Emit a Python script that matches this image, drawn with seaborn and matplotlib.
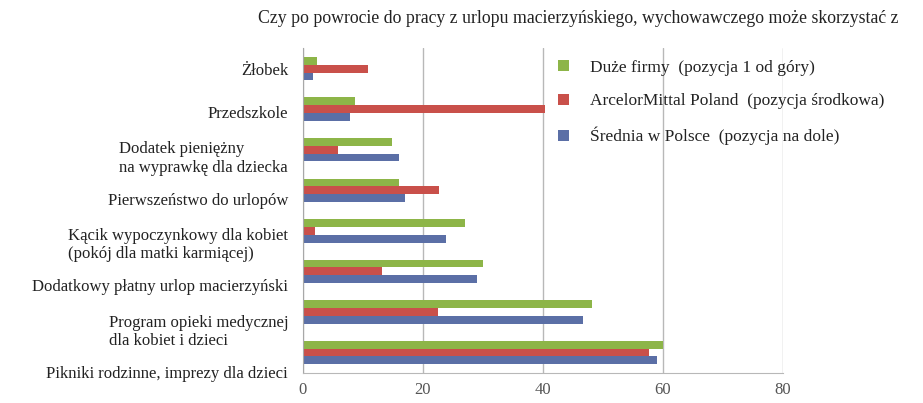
import matplotlib
matplotlib.use("Agg")
import matplotlib.pyplot as plt
import matplotlib.transforms as mtransforms
from matplotlib.patches import Patch
import seaborn as sns
import pandas as pd

categories = [
    "Żłobek",
    "Przedszkole",
    "Dodatek pieniężny\nna wyprawkę dla dziecka",
    "Pierwszeństwo do urlopów",
    "Kącik wypoczynkowy dla kobiet\n(pokój dla matki karmiącej)",
    "Dodatkowy płatny urlop macierzyński",
    "Program opieki medycznej\ndla kobiet i dzieci",
    "Pikniki rodzinne, imprezy dla dzieci",
]
series_names = [
    "Duże firmy  (pozycja 1 od góry)",
    "ArcelorMittal Poland  (pozycja środkowa)",
    "Średnia w Polsce  (pozycja na dole)",
]
duze_firmy = [2.3, 8.7, 14.8, 16.0, 27.0, 30.0, 48.2, 60.0]
arcelor = [10.8, 40.3, 5.8, 22.7, 2.0, 13.2, 22.5, 57.7]
srednia = [1.7, 7.8, 16.0, 17.0, 23.8, 29.0, 46.7, 59.0]
x_ticks = [0, 20, 40, 60, 80]
title = "Czy po powrocie do pracy z urlopu macierzyńskiego, wychowawczego może skorzystać z"

colors = ["#8db548", "#c9504a", "#5b6fa6"]

df = pd.concat([
    pd.DataFrame({"cat": categories, "val": vals, "seria": name})
    for name, vals in zip(series_names, [duze_firmy, arcelor, srednia])
])

sns.set_style("white")
plt.rcParams["font.family"] = ["Liberation Serif", "DejaVu Serif"]

fig = plt.figure(figsize=(9.23, 4.03), dpi=100)
ax = fig.add_axes([0.328, 0.075, 0.52, 0.805])

sns.barplot(data=df, y="cat", x="val", hue="seria", hue_order=series_names,
            order=categories, palette=colors, orient="h", width=0.58, gap=0,
            saturation=1, linewidth=0, ax=ax, legend=False)

ax.set_xlim(0, 80)
ax.set_xticks(x_ticks)
ax.set_xticklabels([str(t) for t in x_ticks], fontsize=12, color="#555555")
ax.set_ylim(7.5, -0.5)
ax.set(xlabel=None, ylabel=None)
ax.xaxis.grid(True, color="#b8b8b8", linewidth=1)
ax.set_axisbelow(True)
for side in ["top", "right"]:
    ax.spines[side].set_visible(False)
ax.spines["left"].set_color("#a8a8a8")
ax.spines["bottom"].set_color("#b8b8b8")
ax.tick_params(axis="both", length=0, pad=7)

# labels drift downward in the scanned original
for i, lab in enumerate(ax.get_yticklabels()):
    lab.set_fontsize(12)
    lab.set_color("#222222")
    lab.set_multialignment("left")
    lab.set_transform(lab.get_transform() +
                      mtransforms.ScaledTranslation(-0.05, -i * 0.028, fig.dpi_scale_trans))

fig.text(0.279, 0.955, title, fontsize=12.8, color="#222222", ha="left", va="center")

handles = [Patch(facecolor=c, edgecolor="none") for c in colors]
fig.legend(handles, series_names, loc="upper left", bbox_to_anchor=(0.588, 0.89),
           frameon=False, fontsize=12.5, handlelength=0.6, handleheight=0.6,
           handletextpad=1.2, labelspacing=1.0, labelcolor="#222222")

fig.savefig("out.png", dpi=100)
